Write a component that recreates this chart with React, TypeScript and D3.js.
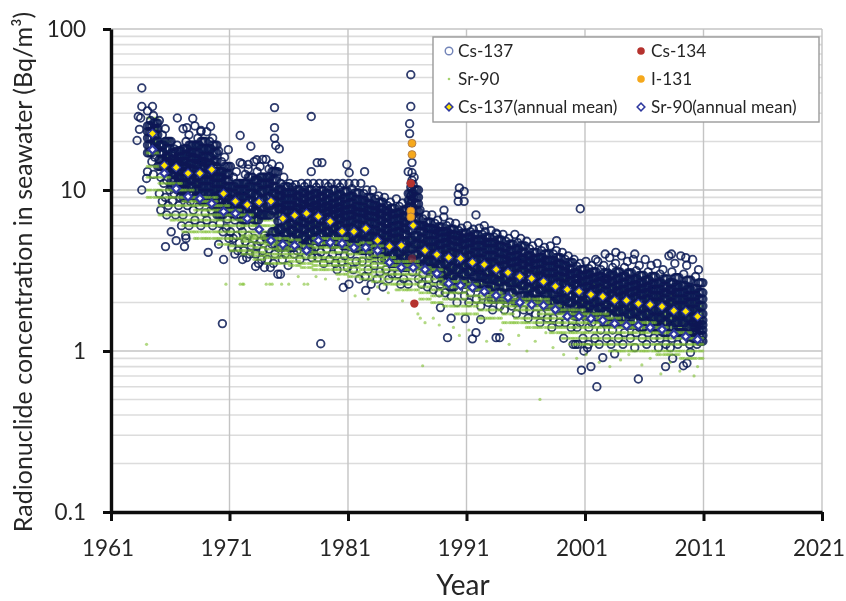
import React, { useEffect, useRef } from 'react';
import * as d3 from 'd3';

// values, Bq/m3
const yearTicks = [1961, 1971, 1981, 1991, 2001, 2011, 2021];
const concTicks = [0.1, 1, 10, 100];
const firstYear = 1964;

// where inside a year the samples of the tables below are placed
const csMonths = [0.08, 0.58, 0.33, 0.83, 0.2, 0.7, 0.45, 0.95];
const srMonths = [0.06, 0.22, 0.38, 0.62, 0.78, 0.94];

const cs137ByYear: number[][] = [
  [31, 29, 27, 26, 25, 24, 23, 22, 21, 20, 19, 18, 17, 16, 15, 14, 13, 12.5],
  [27, 24, 22, 20, 19, 18, 17, 16, 15.5, 15, 14, 13, 12, 11.5, 11, 10, 9.5, 9, 8.5, 8, 7.5, 7],
  [20, 19, 18, 17.5, 17, 16, 15.5, 15, 14.5, 14, 13.5, 13, 12.5, 12, 11.5, 11, 10.5, 10, 9.5, 9, 8.5, 8, 7, 6, 5.5],
  [24, 22, 20, 19, 18, 17, 16.5, 16, 15, 14.5, 14, 13.5, 13, 12.5, 12, 11.5, 11, 10.5, 10, 9.5, 9, 8.5, 8, 7.5, 7, 6, 5],
  [25, 23, 21, 20, 19, 18, 17, 16, 15.5, 15, 14.5, 14, 13, 12.5, 12, 11.5, 11, 10.5, 10, 9.5, 9, 8.5, 8, 7.2, 6.5, 6],
  [23, 21, 20, 19, 18, 17, 16, 15, 14.5, 14, 13.5, 13, 12.5, 12, 11.5, 11, 10.5, 10, 9.5, 9, 8.5, 8, 7.5, 7, 6.5, 6],
  [17.5, 16, 15, 14, 13, 12.5, 12, 11.5, 11, 10.5, 10, 9.7, 9.3, 9, 8.6, 8.2, 7.9, 7.5, 7, 6.6, 6.2, 5.8, 5.5, 5, 4.6],
  [14, 13, 12, 11, 10.5, 10, 9.5, 9, 8.6, 8.2, 7.9, 7.6, 7.2, 6.9, 6.5, 6, 5.5, 5.2, 5, 4.7, 4.4, 4.2, 4],
  [14.5, 13.5, 12.5, 12, 11, 10.5, 10, 9.5, 9, 8.6, 8.2, 7.8, 7.4, 7, 6.5, 6, 5.5, 5.2, 4.8, 4.5, 4.2, 4, 3.8],
  [15, 14, 13, 12, 11.5, 11, 10.4, 9.8, 9.2, 8.7, 8.2, 7.8, 7.3, 7, 6.5, 5.2, 5, 4.8, 4.5, 4.2, 4, 3.7, 3.5, 3.3],
  [15.5, 14.5, 13.5, 13, 12, 11.5, 11, 10.5, 10, 9.5, 9, 8.5, 8, 7.5, 7, 5.5, 5, 4.6, 4.3, 4, 3.7, 3.5, 3.3],
  [13, 12, 11, 10.5, 10, 9.6, 9.2, 8.8, 8.4, 8, 7.7, 7.4, 7, 6.7, 6.4, 6, 5.7, 5.4, 5, 4.7, 4.4, 4, 3.7, 3.4, 3],
  [11, 10.8, 10.4, 10, 9.6, 9.2, 8.8, 8.4, 8, 7.7, 7.4, 7.1, 6.8, 6.5, 6.2, 5.9, 5.6, 5.3, 5, 4.7, 4.4, 4.2, 4, 3.7],
  [11, 11, 10.5, 10, 9.6, 9.2, 8.8, 8.4, 8.1, 7.8, 7.5, 7.2, 6.9, 6.6, 6.3, 6, 5.7, 5.4, 5.1, 4.8, 4.5, 4.2, 3.9, 3.8],
  [11, 11, 10.4, 9.9, 9.5, 9.1, 8.7, 8.3, 8, 7.7, 7.4, 7.1, 6.8, 6.5, 6.2, 5.9, 5.6, 5.3, 5, 4.7, 4.4, 4.1, 3.8, 3.5],
  [11, 11, 10.5, 10, 9.5, 9, 8.6, 8.2, 7.9, 7.6, 7.3, 7, 6.7, 6.4, 6.1, 5.8, 5.5, 5.2, 4.9, 4.6, 4.3, 4, 3.7, 3.5],
  [11, 11, 10.4, 9.8, 9.3, 8.9, 8.5, 8.1, 7.8, 7.5, 7.2, 6.9, 6.6, 6.3, 6, 5.7, 5.4, 5.1, 4.8, 4.5, 4.2, 3.9, 3.6, 3.3, 3.2],
  [11, 11, 10.2, 9.6, 9.1, 8.7, 8.3, 7.9, 7.6, 7.3, 7, 6.7, 6.4, 6.1, 5.8, 5.5, 5.2, 4.9, 4.6, 4.3, 4, 3.6, 3.2, 2.8, 2.6],
  [11, 10, 9.5, 9, 8.6, 8.2, 7.8, 7.5, 7.2, 6.9, 6.6, 6.3, 6, 5.7, 5.4, 5.1, 4.8, 4.5, 4.2, 3.9, 3.6, 3.2, 2.9, 2.6],
  [10, 9.2, 8.8, 8.4, 8, 7.7, 7.4, 7.1, 6.8, 6.5, 6.2, 5.9, 5.6, 5.4, 5.1, 4.8, 4.6, 4.3, 4, 3.7, 3.4, 3.1, 2.8, 2.5],
  [9, 8.4, 8, 7.7, 7.4, 7.1, 6.8, 6.5, 6.2, 5.9, 5.7, 5.4, 5.2, 5, 4.7, 4.5, 4.2, 4, 3.7, 3.5, 3.2, 3, 2.8],
  [8.8, 8.3, 7.9, 7.5, 7.2, 6.9, 6.6, 6.3, 6, 5.8, 5.5, 5.3, 5, 4.8, 4.5, 4.3, 4.1, 3.8, 3.6, 3.3, 3, 2.8, 2.6],
  [13, 12, 11, 10, 9.5, 9, 8.6, 8.2, 7.8, 7.4, 7, 6.7, 6.4, 6, 5.6, 5.2, 4.9, 4.6, 4.3, 4, 3.7, 3.4, 3.1, 2.8, 2.6],
  [7.5, 7, 6.6, 6.3, 6, 5.8, 5.5, 5.3, 5, 4.8, 4.6, 4.4, 4.2, 4, 3.8, 3.6, 3.4, 3.2, 3, 2.8, 2.6, 2.5],
  [7, 6.5, 6.2, 5.9, 5.7, 5.5, 5.3, 5, 4.8, 4.6, 4.4, 4.2, 4, 3.8, 3.6, 3.4, 3.2, 3, 2.8, 2.6, 2.4, 2.3],
  [6.8, 6.3, 6, 5.7, 5.5, 5.3, 5.1, 4.9, 4.7, 4.5, 4.3, 4.1, 3.9, 3.7, 3.5, 3.3, 3.1, 2.9, 2.7, 2.5, 2.3, 2.2],
  [6.2, 5.8, 5.6, 5.4, 5.2, 5, 4.8, 4.6, 4.4, 4.2, 4, 3.8, 3.6, 3.4, 3.2, 3, 2.8, 2.6, 2.4, 2.2, 2],
  [6, 5.7, 5.5, 5.3, 5.1, 4.9, 4.7, 4.5, 4.3, 4.1, 3.9, 3.7, 3.5, 3.3, 3.1, 2.9, 2.7, 2.5, 2.3, 2.1, 2],
  [5.8, 5.5, 5.3, 5.1, 4.9, 4.7, 4.5, 4.3, 4.1, 3.9, 3.7, 3.5, 3.3, 3.1, 2.9, 2.8, 2.6, 2.4, 2.2, 2, 1.9],
  [5.6, 5.3, 5.1, 4.9, 4.7, 4.5, 4.3, 4.1, 3.9, 3.7, 3.5, 3.3, 3.2, 3, 2.8, 2.7, 2.5, 2.3, 2.1, 1.9, 1.8],
  [5.3, 5, 4.8, 4.6, 4.4, 4.2, 4, 3.85, 3.7, 3.55, 3.4, 3.25, 3.1, 2.95, 2.8, 2.65, 2.5, 2.3, 2.1, 1.9, 1.8],
  [5.3, 5, 4.7, 4.5, 4.3, 4.1, 3.9, 3.75, 3.6, 3.45, 3.3, 3.15, 3, 2.85, 2.7, 2.55, 2.4, 2.2, 2, 1.8, 1.7],
  [4.8, 4.5, 4.3, 4.1, 3.9, 3.75, 3.6, 3.45, 3.3, 3.15, 3, 2.85, 2.7, 2.6, 2.45, 2.3, 2.15, 2, 1.8, 1.7, 1.6],
  [4.7, 4.4, 4.2, 4, 3.8, 3.65, 3.5, 3.35, 3.2, 3.05, 2.9, 2.8, 2.65, 2.5, 2.4, 2.25, 2.1, 1.9, 1.7, 1.6, 1.5],
  [4.5, 4.2, 4, 3.8, 3.65, 3.5, 3.35, 3.2, 3.05, 2.9, 2.8, 2.65, 2.5, 2.4, 2.25, 2.1, 2, 1.8, 1.6, 1.5, 1.4],
  [4.1, 3.9, 3.7, 3.55, 3.4, 3.25, 3.1, 3, 2.85, 2.7, 2.6, 2.45, 2.35, 2.2, 2.1, 2, 1.85, 1.7, 1.5, 1.4, 1.2],
  [3.7, 3.5, 3.35, 3.2, 3.05, 2.95, 2.8, 2.7, 2.6, 2.45, 2.35, 2.25, 2.1, 2, 1.9, 1.8, 1.65, 1.5, 1.4, 1.2, 1.1],
  [3.6, 3.4, 3.25, 3.1, 3, 2.85, 2.75, 2.6, 2.5, 2.4, 2.3, 2.2, 2.1, 2, 1.9, 1.8, 1.65, 1.5, 1.4, 1.2, 1.05],
  [3.6, 3.4, 3.2, 3.05, 2.9, 2.8, 2.7, 2.6, 2.45, 2.35, 2.25, 2.15, 2.05, 1.95, 1.85, 1.75, 1.6, 1.5, 1.35, 1.2, 1.1],
  [3.8, 3.5, 3.3, 3.1, 2.95, 2.8, 2.7, 2.55, 2.45, 2.35, 2.25, 2.15, 2.05, 1.95, 1.85, 1.75, 1.65, 1.5, 1.35, 1.2, 1.1],
  [3.9, 3.6, 3.3, 3.05, 2.9, 2.75, 2.65, 2.5, 2.4, 2.3, 2.2, 2.1, 2, 1.9, 1.8, 1.7, 1.6, 1.45, 1.3, 1.2, 1.1],
  [3.7, 3.4, 3.15, 2.95, 2.8, 2.65, 2.55, 2.45, 2.35, 2.25, 2.15, 2.05, 1.95, 1.85, 1.75, 1.65, 1.55, 1.4, 1.3, 1.2, 1.05],
  [3.7, 3.4, 3.1, 2.9, 2.75, 2.6, 2.5, 2.4, 2.3, 2.2, 2.1, 2, 1.9, 1.8, 1.7, 1.6, 1.5, 1.4, 1.3, 1.2, 1.1],
  [3.5, 3.2, 3, 2.8, 2.65, 2.5, 2.4, 2.3, 2.2, 2.1, 2, 1.9, 1.8, 1.7, 1.6, 1.5, 1.4, 1.3, 1.2, 1.1, 1.05],
  [3.9, 3.5, 3.1, 2.85, 2.65, 2.5, 2.4, 2.3, 2.2, 2.1, 2, 1.9, 1.8, 1.7, 1.6, 1.5, 1.4, 1.3, 1.2, 1.1, 1.05],
  [3.9, 3.4, 3, 2.75, 2.55, 2.4, 2.3, 2.2, 2.1, 2, 1.9, 1.8, 1.7, 1.6, 1.5, 1.4, 1.3, 1.25, 1.15, 1.1],
  [3.7, 3.2, 2.9, 2.65, 2.45, 2.3, 2.2, 2.1, 2, 1.9, 1.8, 1.7, 1.6, 1.55, 1.5, 1.45, 1.4, 1.35, 1.3, 1.25, 1.2, 1.15, 1.1],
];

const cs137Outliers: [number, number][] = [
  [1963.6, 43], [1963.6, 33], [1964.5, 33], [1963.3, 28.6], [1963.5, 28], [1963.4, 23.8], [1963.2, 20.3], [1964, 11.8], [1963.6, 10],
  [1966.6, 28], [1967.9, 27.8], [1969.4, 24.8], [1967.4, 24.4], [1968.6, 23.4], [1971.9, 21.8], [1972.8, 18.7], [1970.9, 17.8],
  [1974.8, 32.5], [1974.8, 24.4], [1974.8, 21], [1974.9, 18.9], [1975.2, 18], [1975.2, 14], [1977.9, 28.6], [1978.4, 14.8], [1978.8, 14.8],
  [1977.9, 13], [1980.9, 14.4], [1981.1, 12.8], [1982.4, 13], [1971.9, 14.8], [1972.6, 14.4], [1973.3, 15.4], [1973.8, 15.5],
  [1965.6, 4.45], [1966.5, 4.85], [1967.2, 4.45], [1967.3, 5.2], [1969.2, 4.1], [1970.5, 3.7], [1972.1, 3.7], [1973.2, 3.35], [1975.3, 3],
  [1980.6, 2.48], [1982.5, 2.38], [1970.4, 1.48], [1978.7, 1.11],
  [1986.3, 52], [1986.3, 33], [1986.2, 25.8], [1986.2, 22.4], [1986.4, 14.8], [1986.4, 12.8], [1986.4, 11.5], [1986.5, 10.8], [1986.3, 10.4], [1986.4, 10],
  [1986.5, 9.6], [1986.3, 9.2], [1986.5, 9], [1986.4, 8.6], [1986.3, 8.2], [1986.5, 7.8], [1986.4, 7.4], [1986.5, 7], [1986.3, 6.6],
  [1990.4, 10.3], [1990.8, 9.8], [1990.3, 9.4], [1990.3, 8.5], [1990.8, 8.5], [2000.6, 7.65], [1989.1, 7.5], [1991.8, 7],
  [1989.4, 1.21], [1991.5, 1.19], [1991.8, 1.3], [1990.9, 1.59], [1989.7, 1.6], [1988.8, 1.86], [1993.5, 5.4], [1993.5, 1.21], [1993.8, 1.21],
  [1992.2, 1.57], [1992.5, 6], [2000.7, 0.76], [2001.5, 0.8], [2002, 0.6], [2002.5, 0.91], [2003.5, 0.96], [2005.5, 0.67], [2007.8, 0.8],
  [2008.4, 0.9], [2009.3, 0.81], [2009.6, 0.84], [2000.9, 1], [2000, 1.1], [2000.4, 1.1], [2001.3, 1.1], [2009.9, 0.98],
  [2003.6, 4.1], [2002.7, 4], [2005.2, 4], [2008.3, 4], [2009.5, 3.8], [2001.9, 3.7], [1998.6, 4.85],
];

const sr90Levels: number[][] = [
  [28, 24, 20, 17, 14, 12, 10, 9],
  [20, 16, 14, 12, 11, 10, 9, 8, 7],
  [15, 13, 12, 11, 10, 9, 8, 7, 6.5],
  [14, 12, 11, 10, 9, 8.5, 8, 7, 6.5, 6, 5.5],
  [13, 11, 10, 9, 8.5, 8, 7.5, 7, 6.5, 6, 5.5, 5],
  [12, 10, 9, 8.5, 8, 7.5, 7, 6.5, 6, 5.5, 5],
  [11, 10, 9, 8, 7.5, 7, 6.5, 6, 5.5, 5, 4.6],
  [9, 8, 7.5, 7, 6.5, 6, 5.5, 5, 4.5, 4.2],
  [8, 7, 6.5, 6, 5.5, 5.2, 5, 4.8, 4.5, 4.2, 4],
  [8, 7, 6.5, 6, 5.5, 5.2, 5, 4.7, 4.4, 4.1, 3.9, 3.7],
  [7, 6.5, 6, 5.5, 5, 4.8, 4.6, 4.3, 4, 3.8, 3.5],
  [7, 6, 5.5, 5, 4.7, 4.4, 4.2, 4, 3.8, 3.5],
  [6.5, 6, 5.5, 5.2, 4.9, 4.6, 4.3, 4, 3.8, 3.6, 3.4],
  [6.5, 6, 5.5, 5.2, 4.8, 4.5, 4.2, 4, 3.8, 3.5, 3.3],
  [6.2, 5.8, 5.4, 5, 4.7, 4.4, 4.1, 3.8, 3.6, 3.4, 3.2],
  [6.2, 5.7, 5.3, 5, 4.7, 4.4, 4.1, 3.8, 3.6, 3.4, 3.2],
  [6, 5.5, 5, 4.7, 4.4, 4.1, 3.8, 3.6, 3.4, 3.2, 3],
  [5.8, 5.3, 4.9, 4.6, 4.3, 4, 3.7, 3.5, 3.3, 3.1, 2.9],
  [5.5, 5, 4.7, 4.4, 4.1, 3.8, 3.6, 3.4, 3.2, 3, 2.8],
  [5.2, 4.8, 4.5, 4.2, 3.9, 3.7, 3.5, 3.3, 3.1, 2.9, 2.7],
  [5.1, 4.7, 4.4, 4.1, 3.8, 3.6, 3.4, 3.2, 3, 2.8, 2.6],
  [5, 4.5, 4.2, 3.9, 3.6, 3.4, 3.2, 3, 2.8, 2.6, 2.4],
  [5, 4.5, 4.2, 3.9, 3.6, 3.4, 3.2, 3, 2.8, 2.6, 2.4],
  [4.5, 4.2, 3.9, 3.6, 3.3, 3.1, 2.9, 2.7, 2.5, 2.3, 2.1],
  [4.4, 4.1, 3.8, 3.5, 3.2, 3, 2.8, 2.6, 2.4, 2.2, 2],
  [4.2, 3.9, 3.6, 3.3, 3.1, 2.9, 2.7, 2.5, 2.3, 2.1, 1.9],
  [4, 3.7, 3.4, 3.1, 2.9, 2.7, 2.5, 2.3, 2.1, 1.9, 1.7],
  [3.8, 3.5, 3.2, 3, 2.8, 2.6, 2.4, 2.2, 2, 1.9, 1.7],
  [3.6, 3.3, 3, 2.8, 2.6, 2.4, 2.2, 2.1, 2, 1.8, 1.6],
  [3.5, 3.2, 2.9, 2.7, 2.5, 2.3, 2.2, 2.1, 2, 1.8, 1.6],
  [3.3, 3, 2.8, 2.6, 2.4, 2.2, 2.1, 2, 1.9, 1.7, 1.5],
  [3.2, 2.9, 2.7, 2.5, 2.3, 2.1, 2, 1.9, 1.8, 1.6, 1.5],
  [3.1, 2.8, 2.6, 2.4, 2.2, 2.1, 2, 1.9, 1.8, 1.6, 1.5, 1.4],
  [3, 2.7, 2.5, 2.3, 2.1, 2, 1.9, 1.8, 1.7, 1.6, 1.5, 1.4],
  [2.9, 2.6, 2.4, 2.2, 2.1, 2, 1.9, 1.8, 1.7, 1.6, 1.5, 1.4, 1.3],
  [2.8, 2.5, 2.3, 2.1, 1.9, 1.8, 1.7, 1.6, 1.5, 1.4, 1.3, 1.2],
  [2.7, 2.4, 2.2, 2, 1.9, 1.8, 1.7, 1.6, 1.5, 1.4, 1.3, 1.2, 1.1],
  [2.6, 2.3, 2.1, 2, 1.9, 1.8, 1.7, 1.6, 1.5, 1.4, 1.3, 1.2, 1.1],
  [2.5, 2.3, 2.1, 2, 1.9, 1.8, 1.7, 1.6, 1.5, 1.4, 1.3, 1.2, 1.1],
  [2.5, 2.2, 2, 1.9, 1.8, 1.7, 1.6, 1.5, 1.4, 1.3, 1.2, 1.1, 1],
  [2.4, 2.2, 2, 1.9, 1.8, 1.7, 1.6, 1.5, 1.4, 1.3, 1.2, 1.1, 1],
  [2.4, 2.2, 2, 1.9, 1.8, 1.7, 1.6, 1.5, 1.4, 1.3, 1.2, 1.1, 1],
  [2.3, 2.1, 2, 1.9, 1.8, 1.7, 1.6, 1.5, 1.4, 1.3, 1.2, 1.1, 1],
  [2.2, 2, 1.9, 1.8, 1.7, 1.6, 1.5, 1.4, 1.3, 1.2, 1.1, 1, 0.95],
  [2.2, 2, 1.9, 1.8, 1.7, 1.6, 1.5, 1.4, 1.3, 1.2, 1.1, 1, 0.95],
  [2.1, 2, 1.9, 1.8, 1.7, 1.6, 1.5, 1.4, 1.3, 1.2, 1.1, 1, 0.9],
  [2, 1.9, 1.8, 1.7, 1.6, 1.5, 1.4, 1.3, 1.2, 1.1, 1, 0.9],
];

const sr90Outliers: [number, number][] = [
  [1964, 1.1], [1997.2, 0.5], [1987.3, 0.81], [1970.7, 2.6], [1971.9, 2.6], [1972.1, 2.6], [1972.2, 2.6], [1974.1, 2.6], [1974.4, 2.6], [1974.6, 2.6],
  [1975.4, 2.6], [1976, 2.6], [1977.3, 2.6], [1977.6, 2.6], [1976.8, 2.9], [1978.3, 2.9], [1979.1, 2.8], [1980.2, 2.8], [1981.6, 2.2],
  [1982.7, 2.1], [1983.5, 2.5], [1984.4, 2.3], [1985.6, 2.05], [1986.9, 1.7], [1987.1, 1.6], [1987.5, 1.5], [1988.2, 1.6], [1988.7, 1.45],
  [1989.9, 1.4], [1990.4, 1.25], [1991.2, 1.35], [1992.7, 1.15], [1993.9, 1.35], [1994.6, 1.1], [1995.4, 1.25], [1996.1, 1], [1996.8, 1.15],
  [1997.7, 1.3], [1998.3, 1.05], [1999.2, 0.95], [1999.7, 1.1], [2000.3, 0.9], [2001.1, 0.95], [2002.2, 0.85], [2003.1, 0.8], [2004, 0.88],
  [2004.7, 0.95], [2005.8, 0.82], [2006.5, 0.9], [2007.4, 0.72], [2008.2, 0.85], [2009, 0.75], [2010.2, 0.7], [2010.5, 0.8],
];

const cs134Points: [number, number][] = [[1986.3, 11], [1986.4, 3.75], [1986.6, 1.97]];
const i131Points: [number, number][] = [[1986.4, 19.5], [1986.4, 16.6], [1986.3, 7.4], [1986.3, 6.8]];

const cs137Mean = [22.4, 14.2, 13.8, 12.7, 12.7, 13.4, 9.5, 8.5, 8.1, 8.4, 8.5, 6.65, 6.95, 7.15, 6.85, 6.37, 5.52, 5.52, 5.76, 4.86, 4.46, 4.52, 6.02, 4.21, 3.97, 3.81, 3.76, 3.55, 3.44, 3.21, 3.07, 2.9, 2.82, 2.7, 2.52, 2.41, 2.34, 2.24, 2.18, 2.06, 2.06, 1.97, 1.94, 1.89, 1.78, 1.76, 1.64];
const sr90Mean = [17.8, 12.7, 10.2, 9.1, 8.85, 8.25, 7.35, 7.15, 6.65, 5.68, 4.86, 4.59, 4.52, 4.21, 4.86, 4.72, 4.65, 4.39, 4.39, 4.21, 3.55, 3.3, 3.3, 3.21, 3.03, 2.63, 2.55, 2.48, 2.34, 2.21, 2.15, 2, 1.94, 1.92, 1.81, 1.64, 1.64, 1.59, 1.55, 1.48, 1.44, 1.44, 1.4, 1.36, 1.27, 1.23, 1.18];

const legendLeft = ['Cs-137', 'Sr-90', 'Cs-137(annual mean)'];
const legendRight = ['Cs-134', 'I-131', 'Sr-90(annual mean)'];

const ringColor = '#0a1a55';
const srColor = '#7fbf30';
const font = 'Lato, sans-serif';
const textColor = '#262626';

export default function App() {
  const ref = useRef<SVGSVGElement>(null);

  useEffect(() => {
    const svg = d3.select(ref.current);
    svg.selectAll('*').remove();

    const x = d3.scaleLinear().domain([1961, 2021]).range([111, 822]);
    const y = d3.scaleLog().domain([0.1, 100]).range([512, 29]);

    svg.append('defs').append('filter').attr('id', 'soft')
      .attr('filterUnits', 'userSpaceOnUse')
      .attr('x', 0).attr('y', 0).attr('width', 846).attr('height', 601)
      .append('feGaussianBlur').attr('stdDeviation', 0.45);
    const root = svg.append('g').attr('filter', 'url(#soft)');
    root.append('rect').attr('width', 846).attr('height', 601).attr('fill', '#fff');

    // grid, 2..9 of every decade plus the decades
    const minor = d3.range(-1, 2).flatMap((e) => d3.range(2, 10).map((m) => m * 10 ** e));
    root.append('g').selectAll('line').data(minor).join('line')
      .attr('x1', x(1961)).attr('x2', x(2021))
      .attr('y1', (d) => y(d)).attr('y2', (d) => y(d))
      .attr('stroke', '#dcdcdc').attr('stroke-width', 1.6);
    root.append('g').selectAll('line').data(concTicks).join('line')
      .attr('x1', x(1961)).attr('x2', x(2021))
      .attr('y1', (d) => y(d)).attr('y2', (d) => y(d))
      .attr('stroke', '#c4c4c4').attr('stroke-width', 1.6);
    root.append('g').selectAll('line').data(yearTicks.slice(1)).join('line')
      .attr('x1', (d) => x(d)).attr('x2', (d) => x(d))
      .attr('y1', y(100)).attr('y2', y(0.1))
      .attr('stroke', '#c4c4c4').attr('stroke-width', 1.4);

    // Sr-90: the upper levels disappear into the ring cloud, the lower ones lie over the rings
    const srUpper: [number, number][] = [];
    const srLower: [number, number][] = [...sr90Outliers];
    sr90Levels.forEach((levels, i) => {
      levels.forEach((v) => {
        const target = v > sr90Mean[i] * 1.1 ? srUpper : srLower;
        srMonths.forEach((m) => target.push([firstYear + i + m, v]));
      });
    });
    const addSr = (points: [number, number][]) => {
      root.append('g').selectAll('circle').data(points).join('circle')
        .attr('cx', (d) => x(d[0])).attr('cy', (d) => y(d[1]))
        .attr('r', 1.6).attr('fill', srColor).attr('fill-opacity', 0.6);
    };
    addSr(srUpper);

    // Cs-137 rings: levels above the Sr-90 mean were sampled often, so they sit at four months
    const csPoints: [number, number][] = cs137ByYear.flatMap((values, i) =>
      values.flatMap((v, j) => {
        const start = j % csMonths.length;
        const repeats = j >= 3 && v > sr90Mean[i] * 0.95 ? 4 : 1;
        return d3.range(repeats).map((k) =>
          [firstYear + i + csMonths[(start + k * 2) % csMonths.length], v] as [number, number]);
      }),
    ).concat(cs137Outliers);
    root.append('g').selectAll('circle').data(csPoints).join('circle')
      .attr('cx', (d) => x(d[0])).attr('cy', (d) => y(d[1]))
      .attr('r', 3.8).attr('fill', 'none')
      .attr('stroke', ringColor).attr('stroke-width', 1.8).attr('stroke-opacity', 0.85);

    addSr(srLower);

    root.append('g').selectAll('circle').data(i131Points).join('circle')
      .attr('cx', (d) => x(d[0])).attr('cy', (d) => y(d[1]))
      .attr('r', 4).attr('fill', '#f5a81c').attr('stroke', '#a5724a').attr('stroke-width', 0.8);
    root.append('g').selectAll('circle').data(cs134Points).join('circle')
      .attr('cx', (d) => x(d[0])).attr('cy', (d) => y(d[1]))
      .attr('r', 4.2).attr('fill', '#b5332e').attr('fill-opacity', (_, i) => (i === 1 ? 0.45 : 1));

    // annual means, squares turned on their corner
    const square = d3.symbol().type(d3.symbolSquare);
    const addMean = (values: number[], fill: string, size: number, width: number) => {
      root.append('g').selectAll('path').data(values).join('path')
        .attr('transform', (d, i) => `translate(${x(firstYear + i + 0.5)},${y(d)}) rotate(45)`)
        .attr('d', square.size(size)())
        .attr('fill', fill).attr('stroke', '#2e379e').attr('stroke-width', width);
    };
    addMean(sr90Mean, '#ffffff', 30, 2.2);
    addMean(cs137Mean, '#ffe600', 36, 1.2);

    // axes
    const yAxis = d3.axisLeft(y).tickValues(concTicks).tickFormat((d) => String(d))
      .tickSize(8).tickSizeOuter(0).tickPadding(17);
    const xAxis = d3.axisBottom(x).tickValues(yearTicks).tickFormat((d) => String(d))
      .tickSize(9).tickSizeOuter(0).tickPadding(19);
    const gy = root.append('g').attr('transform', `translate(${x(1961)},0)`).call(yAxis as any);
    const gx = root.append('g').attr('transform', `translate(0,${y(0.1)})`).call(xAxis as any);
    [gx, gy].forEach((g) => {
      g.selectAll('path.domain').attr('stroke', '#0b0b0b').attr('stroke-width', 3.4);
      g.selectAll('line').attr('stroke', '#0b0b0b').attr('stroke-width', 3);
      g.selectAll('text').attr('fill', textColor)
        .style('font-family', font).style('font-size', '22.5px');
    });
    gx.selectAll('text').attr('dx', -3.5);

    root.append('text').attr('x', 463).attr('y', 595).attr('text-anchor', 'middle')
      .attr('fill', textColor).style('font-family', font).style('font-size', '28px')
      .text('Year');
    root.append('text').attr('transform', 'translate(32,272) rotate(-90)').attr('text-anchor', 'middle')
      .attr('fill', textColor).style('font-family', font).style('font-size', '25px')
      .text('Radionuclide concentration in seawater (Bq/m³)');

    // legend
    const legend = root.append('g');
    legend.append('rect').attr('x', 433).attr('y', 37).attr('width', 386).attr('height', 85)
      .attr('fill', '#fff').attr('stroke', '#9a9a9a').attr('stroke-width', 1.4);
    const rows = [51, 79, 107];
    const addLabels = (labels: string[], tx: number) => {
      legend.append('g').selectAll('text').data(labels).join('text')
        .attr('x', tx).attr('y', (_, i) => rows[i] + 6)
        .attr('fill', textColor).style('font-family', font).style('font-size', '17.2px')
        .text((d) => d);
    };
    addLabels(legendLeft, 458);
    addLabels(legendRight, 651);
    legend.append('circle').attr('cx', 449).attr('cy', rows[0]).attr('r', 3.8)
      .attr('fill', 'none').attr('stroke', '#7284b8').attr('stroke-width', 1.4);
    legend.append('circle').attr('cx', 449).attr('cy', rows[1]).attr('r', 1.3)
      .attr('fill', srColor).attr('fill-opacity', 0.7);
    legend.append('path').attr('transform', `translate(449,${rows[2]}) rotate(45)`).attr('d', square.size(30)())
      .attr('fill', '#ffe600').attr('stroke', '#2e379e').attr('stroke-width', 1.5);
    legend.append('circle').attr('cx', 641).attr('cy', rows[0]).attr('r', 3.8).attr('fill', '#b5332e');
    legend.append('circle').attr('cx', 641).attr('cy', rows[1]).attr('r', 3.8).attr('fill', '#f5a81c');
    legend.append('path').attr('transform', `translate(641,${rows[2]}) rotate(45)`).attr('d', square.size(30)())
      .attr('fill', '#fff').attr('stroke', '#2e379e').attr('stroke-width', 1.5);
  }, []);

  return (
    <svg ref={ref} width={846} height={601} style={{ position: 'absolute', left: 0, top: 0 }} />
  );
}
